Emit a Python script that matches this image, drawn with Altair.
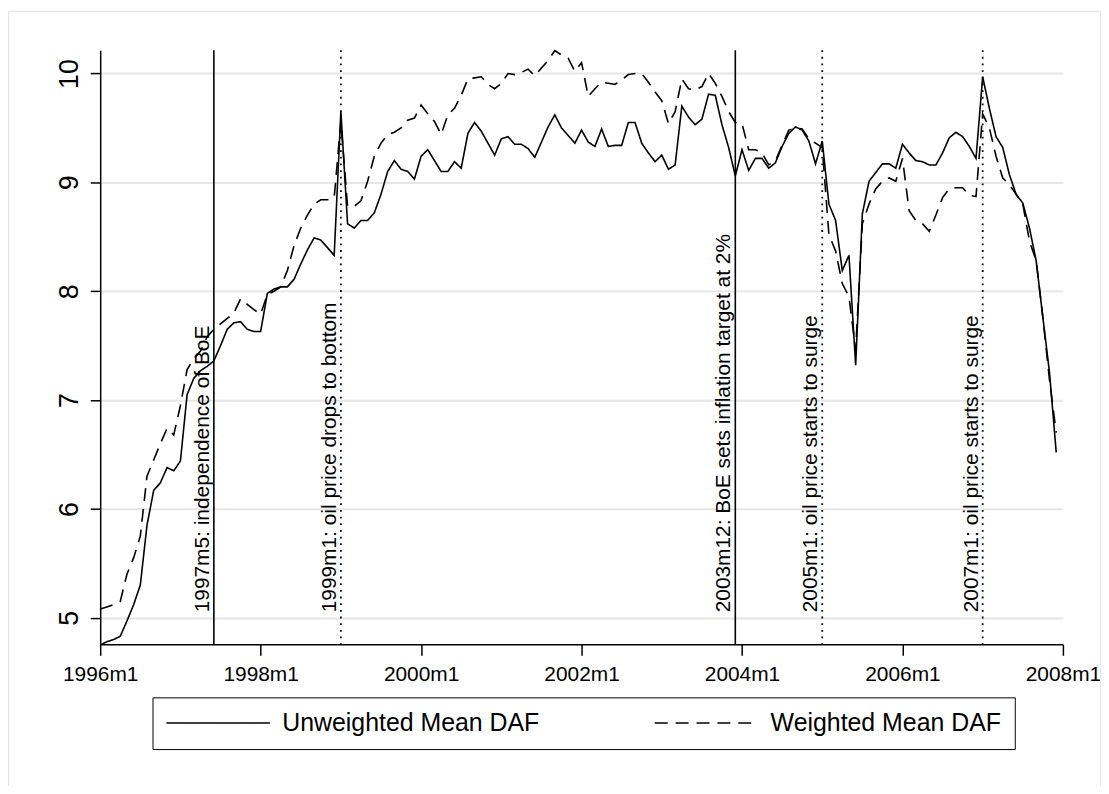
import altair as alt
import pandas as pd

FONT = "Liberation Sans"

months = [f"{1996 + i // 12}m{i % 12 + 1}" for i in range(144)]

unweighted = [
    4.75, 4.78, 4.80, 4.83, 4.97, 5.12, 5.30, 5.85, 6.17, 6.24, 6.38, 6.35,
    6.44, 7.05, 7.20, 7.27, 7.31, 7.36, 7.50, 7.65, 7.71, 7.72, 7.65, 7.63,
    7.63, 7.98, 8.02, 8.04, 8.04, 8.11, 8.25, 8.38, 8.49, 8.47, 8.40, 8.33,
    9.65, 8.62, 8.58, 8.65, 8.65, 8.72, 8.89, 9.10, 9.20, 9.12, 9.10, 9.03,
    9.24, 9.30, 9.20, 9.10, 9.10, 9.19, 9.13, 9.45, 9.55, 9.47, 9.36, 9.25,
    9.40, 9.42, 9.35, 9.35, 9.31, 9.23, 9.37, 9.51, 9.62, 9.50, 9.43, 9.36,
    9.48, 9.37, 9.33, 9.49, 9.33, 9.34, 9.34, 9.55, 9.55, 9.36, 9.27, 9.19,
    9.25, 9.12, 9.16, 9.70, 9.60, 9.53, 9.58, 9.81, 9.80, 9.53, 9.32, 9.06,
    9.30, 9.11, 9.22, 9.22, 9.13, 9.18, 9.33, 9.45, 9.51, 9.48, 9.38, 9.17,
    9.38, 8.80, 8.65, 8.19, 8.33, 7.32, 8.71, 9.01, 9.09, 9.17, 9.17, 9.13,
    9.35, 9.27, 9.20, 9.19, 9.16, 9.16, 9.27, 9.41, 9.46, 9.42, 9.33, 9.22,
    9.97, 9.68, 9.42, 9.32, 9.07, 8.89, 8.81, 8.58, 8.28, 7.76, 7.25, 6.52,
]

weighted = [
    5.08, 5.10, 5.12, 5.15, 5.40, 5.55, 5.75, 6.30, 6.45, 6.60, 6.74, 6.68,
    6.95, 7.28, 7.38, 7.45, 7.58, 7.65, 7.70, 7.75, 7.80, 7.93, 7.88, 7.83,
    7.79, 7.97, 8.00, 8.04, 8.19, 8.42, 8.58, 8.70, 8.80, 8.84, 8.84, 8.86,
    9.56, 8.78, 8.78, 8.83, 9.01, 9.24, 9.36, 9.44, 9.46, 9.50, 9.57, 9.59,
    9.71, 9.63, 9.56, 9.44, 9.62, 9.68, 9.80, 9.95, 9.96, 9.97, 9.90, 9.86,
    9.91, 10.00, 9.99, 10.01, 10.04, 9.98, 10.05, 10.12, 10.21, 10.17, 10.14, 10.02,
    10.10, 9.79, 9.86, 9.92, 9.91, 9.90, 9.94, 9.99, 10.00, 10.00, 9.92, 9.83,
    9.75, 9.54, 9.65, 9.95, 9.86, 9.85, 9.88, 10.00, 9.91, 9.79, 9.65, 9.55,
    9.54, 9.30, 9.30, 9.27, 9.16, 9.20, 9.34, 9.48, 9.50, 9.49, 9.40, 9.36,
    9.32, 8.52, 8.37, 8.07, 7.95, 7.46, 8.62, 8.80, 8.94, 9.01, 9.04, 9.01,
    9.22, 8.74, 8.65, 8.62, 8.55, 8.70, 8.86, 8.94, 8.95, 8.95, 8.88, 8.87,
    9.63, 9.50, 9.24, 9.04, 8.98, 8.89, 8.80, 8.46, 8.28, 7.76, 7.18, 6.70,
]

series_names = ["Unweighted Mean DAF", "Weighted Mean DAF"]

solid_events = ["1997m6", "2003m12"]
dotted_events = ["1999m1", "2005m1", "2007m1"]
event_months = ["1997m6", "1999m1", "2003m12", "2005m1", "2007m1"]
event_labels = [
    "1997m5: independence of BoE",
    "1999m1: oil price drops to bottom",
    "2003m12: BoE sets inflation target at 2%",
    "2005m1: oil price starts to surge",
    "2007m1: oil price starts to surge",
]

tick_months = ["1996m1", "1998m1", "2000m1", "2002m1", "2004m1", "2006m1", "2008m1"]


def idx(m):
    y, mm = m.split("m")
    return (int(y) - 1996) * 12 + int(mm) - 1


df = pd.DataFrame({
    "t": [idx(m) for m in months] * 2,
    "value": unweighted + weighted,
    "series": [series_names[0]] * len(months) + [series_names[1]] * len(months),
})
ev = pd.DataFrame({"t": [idx(m) for m in event_months], "label": event_labels})
ev_solid = pd.DataFrame({"t": [idx(m) for m in solid_events]})
ev_dot = pd.DataFrame({"t": [idx(m) for m in dotted_events]})

W, H = 968, 597.4
xscale = alt.Scale(domain=[0, 144], nice=False, zero=False)
yscale = alt.Scale(domain=[4.756, 10.214], nice=False, zero=False)

xaxis = alt.Axis(
    values=[idx(m) for m in tick_months],
    labelExpr="(1996 + datum.value / 12) + 'm1'",
    title=None, grid=False, tickSize=11, labelPadding=8,
    labelFontSize=21, labelFont=FONT, labelColor="black",
    domainColor="black", domainWidth=1.5, tickColor="black", tickWidth=1.5,
    labelFlush=False, labelOverlap=False,
)
yaxis = alt.Axis(
    values=[5, 6, 7, 8, 9, 10], format="d", title=None, grid=True,
    gridColor="#e6e6e6", gridWidth=2,
    labelAngle=270, labelAlign="center", labelBaseline="alphabetic",
    tickSize=10, labelPadding=13, labelFontSize=27, labelFont=FONT,
    labelColor="black", domainColor="black", domainWidth=1.5,
    tickColor="black", tickWidth=1.5,
)

lines = alt.Chart(df).mark_line(color="black", strokeWidth=1.6).encode(
    x=alt.X("t:Q", scale=xscale, axis=xaxis),
    y=alt.Y("value:Q", scale=yscale, axis=yaxis),
    strokeDash=alt.StrokeDash(
        "series:N",
        scale=alt.Scale(domain=series_names, range=[[1, 0], [13, 8]]),
        legend=alt.Legend(
            title=None, orient="none", legendX=52.6, legendY=650.7,
            direction="horizontal", symbolType="M-5,0H5", symbolSize=432.64,
            symbolOffset=40.5,
            symbolStrokeWidth=1.6, symbolStrokeColor="black",
            labelFontSize=25, labelFont=FONT, labelColor="black",
            labelOffset=52, columnPadding=112, padding=13,
            strokeColor="black", fillColor="white", labelLimit=500,
        ),
    ),
    detail="series:N",
)

rule_solid = alt.Chart(ev_solid).mark_rule(color="black", strokeWidth=1.6).encode(
    x=alt.X("t:Q", scale=xscale)
)
rule_dot = alt.Chart(ev_dot).mark_rule(
    color="black", strokeWidth=1.8, strokeDash=[1.8, 4.9]
).encode(x=alt.X("t:Q", scale=xscale))

texts = alt.Chart(ev).mark_text(
    angle=270, align="left", baseline="alphabetic", dy=-5,
    fontSize=21, font=FONT, color="black",
).encode(
    x=alt.X("t:Q", scale=xscale),
    y=alt.datum(5.05, scale=yscale),
    text="label:N",
)

frame = alt.Chart(alt.Data(values=[{"k": 1}])).mark_rect(
    filled=False, stroke="#e6e6e6", strokeWidth=1.5
).encode(
    x=alt.value(-92.2), x2=alt.value(1006), y=alt.value(-39), y2=alt.value(760)
)

chart = alt.layer(rule_solid, rule_dot, lines, texts, frame).properties(
    width=W, height=H,
    padding={"left": 92.7, "top": 40.3, "right": 38.3, "bottom": 140.3},
    autosize=alt.AutoSizeParams(type="none"),
    background="white",
).configure_view(strokeWidth=0)

chart.save("out.html", embed_options={"renderer": "svg", "actions": False})
